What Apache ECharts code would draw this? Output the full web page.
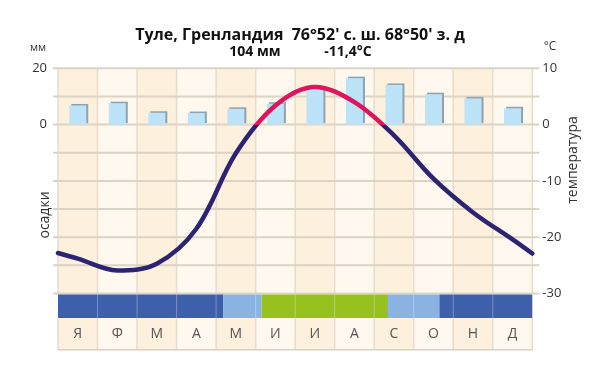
<!DOCTYPE html>
<html><head><meta charset="utf-8">
<script src="https://cdn.jsdelivr.net/npm/echarts@6/dist/echarts.min.js"></script>
<style>html,body{margin:0;padding:0;background:#fff}#c{width:600px;height:381px}</style>
</head><body><div id="c"></div>
<script>
const months = ['Я','Ф','М','А','М','И','И','А','С','О','Н','Д'];
const precipitation = [6.8, 7.6, 4.2, 4.1, 5.6, 7.4, 13.2, 16.5, 14.1, 10.8, 9.3, 5.8];
const temperature = [-23.8, -25.9, -24.7, -18.5, -5.1, 3.4, 6.7, 4.0, -1.9, -9.6, -15.6, -20.4];
const temperatureStart = -22.8;
const temperatureEnd = -22.9;
const temperatureGridValues = [10, 5, 0, -5, -10, -15, -20, -25, -30];
const bandStart = [0, 4.18, 5.15, 8.35, 9.65];
const bandEnd = [4.18, 5.15, 8.35, 9.65, 12];
const bandKind = ['snow', 'thaw', 'green', 'thaw', 'snow'];
const titleText = "Туле, Гренландия  76°52' с. ш. 68°50' з. д";
const annualPrecipText = '104 мм';
const annualTempText = '-11,4°C';

const bandColors = { snow: '#3e5fa9', thaw: '#8bb3e2', green: '#97c11f' };
const columnColors = ['#fdf0dc', '#fef8ee'];
const hGridColor = '#dcd3c5';
const vGridColor = '#e7ddcf';
const font = 'Open Sans';

const lineData = [[0, temperatureStart]]
  .concat(temperature.map((t, i) => [i + 0.5, t]))
  .concat([[12, temperatureEnd]]);
const bandData = bandStart.map((s, i) => [s, bandEnd[i], i]);
const columnData = months.map((m, i) => i);
const boundaryAll = months.map((m, i) => i).concat([months.length]);
const boundaryInner = boundaryAll.filter(i => i > 0 && i < months.length);

function columnBg(yTop, yBottom) {
  return (params, api) => {
    const i = api.value(0);
    const a = api.coord([i, yTop]);
    const b = api.coord([i + 1, yBottom]);
    return { type: 'rect', shape: { x: a[0], y: a[1], width: b[0] - a[0], height: b[1] - a[1] },
      style: { fill: columnColors[i % 2] } };
  };
}
function vLine(yTop, yBottom, stroke, topPad, width) {
  return (params, api) => {
    const a = api.coord([api.value(0), yTop]);
    const b = api.coord([api.value(0), yBottom]);
    return { type: 'line', shape: { x1: a[0], y1: a[1] + (topPad || 0), x2: a[0], y2: b[1] },
      style: { stroke: stroke, lineWidth: width || 1.5 } };
  };
}

const chart = echarts.init(document.getElementById('c'), null, { renderer: 'canvas' });
chart.setOption({
  animation: false,
  backgroundColor: '#ffffff',
  textStyle: { fontFamily: font },
  title: {
    text: titleText, left: 'center', top: 22,
    textStyle: { fontFamily: font, fontSize: 16, fontWeight: 'bold', color: '#111' }
  },
  grid: [
    { left: 58, right: 67.7, top: 68.3, height: 225.2 },
    { left: 58, right: 67.7, top: 293.5, height: 56.3 }
  ],
  xAxis: [
    { gridIndex: 0, type: 'category', data: months, boundaryGap: true, show: false },
    { gridIndex: 0, type: 'value', min: 0, max: 12, show: false },
    { gridIndex: 1, type: 'value', min: 0, max: 12, show: false }
  ],
  yAxis: [
    { gridIndex: 0, type: 'value', min: -60, max: 20, interval: 10, position: 'left',
      axisLine: { show: false }, axisTick: { show: false },
      axisLabel: { margin: 11, color: '#333', fontSize: 13, fontFamily: font,
        formatter: v => (v === 20 || v === 0) ? String(v) : '' },
      splitLine: { show: false } },
    { gridIndex: 0, type: 'value', min: -30, max: 10, interval: 5, position: 'right',
      axisLine: { show: false }, axisTick: { show: false },
      axisLabel: { margin: 10, color: '#333', fontSize: 13, fontFamily: font,
        formatter: v => (v % 10 === 0) ? String(v) : '' },
      splitLine: { show: false } },
    { gridIndex: 1, type: 'value', min: 0, max: 1, show: false }
  ],
  visualMap: {
    type: 'piecewise', show: false, seriesIndex: 1, dimension: 1,
    pieces: [{ gte: -60, lt: 0, color: '#2c2473' }, { gte: 0, lte: 40, color: '#e0145c' }]
  },
  series: [
    { type: 'bar', xAxisIndex: 0, yAxisIndex: 0, data: precipitation, barWidth: 17, z: 5,
      itemStyle: { color: '#bde3f8', shadowColor: '#8fa3ae', shadowBlur: 0, shadowOffsetX: 2, shadowOffsetY: -1.5 } },
    { type: 'line', xAxisIndex: 1, yAxisIndex: 1, data: lineData, smooth: 0.35, z: 6,
      symbol: 'none', lineStyle: { width: 4.5, cap: 'round' } },
    { type: 'custom', xAxisIndex: 1, yAxisIndex: 1, data: columnData, z: 0, clip: false,
      encode: { x: 0 }, renderItem: columnBg(10, -30) },
    { type: 'custom', xAxisIndex: 2, yAxisIndex: 2, data: columnData, z: 0, clip: false,
      encode: { x: 0 }, renderItem: columnBg(1, 0) },
    { type: 'custom', xAxisIndex: 1, yAxisIndex: 1, data: boundaryAll, z: 1, clip: false,
      encode: { x: 0 }, renderItem: vLine(10, -30, vGridColor) },
    { type: 'custom', xAxisIndex: 2, yAxisIndex: 2, data: boundaryAll, z: 1, clip: false,
      encode: { x: 0 }, renderItem: vLine(0.565, 0, vGridColor) },
    { type: 'custom', xAxisIndex: 1, yAxisIndex: 1, data: temperatureGridValues, z: 2, clip: false,
      encode: { y: 0 },
      renderItem: (params, api) => {
        const a = api.coord([0, api.value(0)]);
        const b = api.coord([12, api.value(0)]);
        return { type: 'line', shape: { x1: a[0] - 5, y1: a[1], x2: b[0] + 7, y2: a[1] },
          style: { stroke: hGridColor, lineWidth: 2 } };
      } },
    { type: 'custom', xAxisIndex: 2, yAxisIndex: 2, data: [0], z: 1, clip: false,
      renderItem: (params, api) => {
        const a = api.coord([0, 0]);
        const b = api.coord([12, 0]);
        return { type: 'line', shape: { x1: a[0], y1: a[1], x2: b[0], y2: b[1] },
          style: { stroke: '#d9d0c3', lineWidth: 1.5 } };
      } },
    { type: 'custom', xAxisIndex: 2, yAxisIndex: 2, data: bandData, z: 3, clip: false,
      renderItem: (params, api) => {
        const a = api.coord([api.value(0), 1]);
        const b = api.coord([api.value(1), 0.565]);
        return { type: 'rect', shape: { x: a[0], y: a[1] + 1, width: b[0] - a[0], height: b[1] - a[1] - 1 },
          style: { fill: bandColors[bandKind[api.value(2)]] } };
      } },
    { type: 'custom', xAxisIndex: 2, yAxisIndex: 2, data: boundaryInner, z: 4, clip: false,
      encode: { x: 0 }, renderItem: vLine(1, 0.565, 'rgba(255,255,255,0.3)', 1, 1) },
    { type: 'custom', xAxisIndex: 2, yAxisIndex: 2, data: columnData, z: 4, clip: false,
      encode: { x: 0 },
      renderItem: (params, api) => {
        const i = api.value(0);
        const p = api.coord([i + 0.5, 0.28]);
        return { type: 'text', x: p[0], y: p[1],
          style: { text: months[i], fontFamily: font, fontSize: 14, fill: '#555', align: 'center', verticalAlign: 'middle' } };
      } }
  ],
  graphic: [
    { type: 'text', x: 255, y: 52, style: { text: annualPrecipText, fontFamily: font, fontSize: 14, fontWeight: 'bold', fill: '#111', textAlign: 'center', textVerticalAlign: 'middle' } },
    { type: 'text', x: 348, y: 52, style: { text: annualTempText, fontFamily: font, fontSize: 14, fontWeight: 'bold', fill: '#111', textAlign: 'center', textVerticalAlign: 'middle' } },
    { type: 'text', x: 38, y: 48, style: { text: 'мм', fontFamily: font, fontSize: 11, fill: '#333', textAlign: 'center', textVerticalAlign: 'middle' } },
    { type: 'text', x: 550, y: 47, style: { text: '°C', fontFamily: font, fontSize: 12, fill: '#333', textAlign: 'center', textVerticalAlign: 'middle' } },
    { type: 'text', x: 45, y: 215, rotation: Math.PI / 2, style: { text: 'осадки', fontFamily: font, fontSize: 14, fill: '#333', textAlign: 'center', textVerticalAlign: 'middle' } },
    { type: 'text', x: 573, y: 160, rotation: Math.PI / 2, style: { text: 'температура', fontFamily: font, fontSize: 14, fill: '#333', textAlign: 'center', textVerticalAlign: 'middle' } }
  ]
});
</script>
</body></html>
